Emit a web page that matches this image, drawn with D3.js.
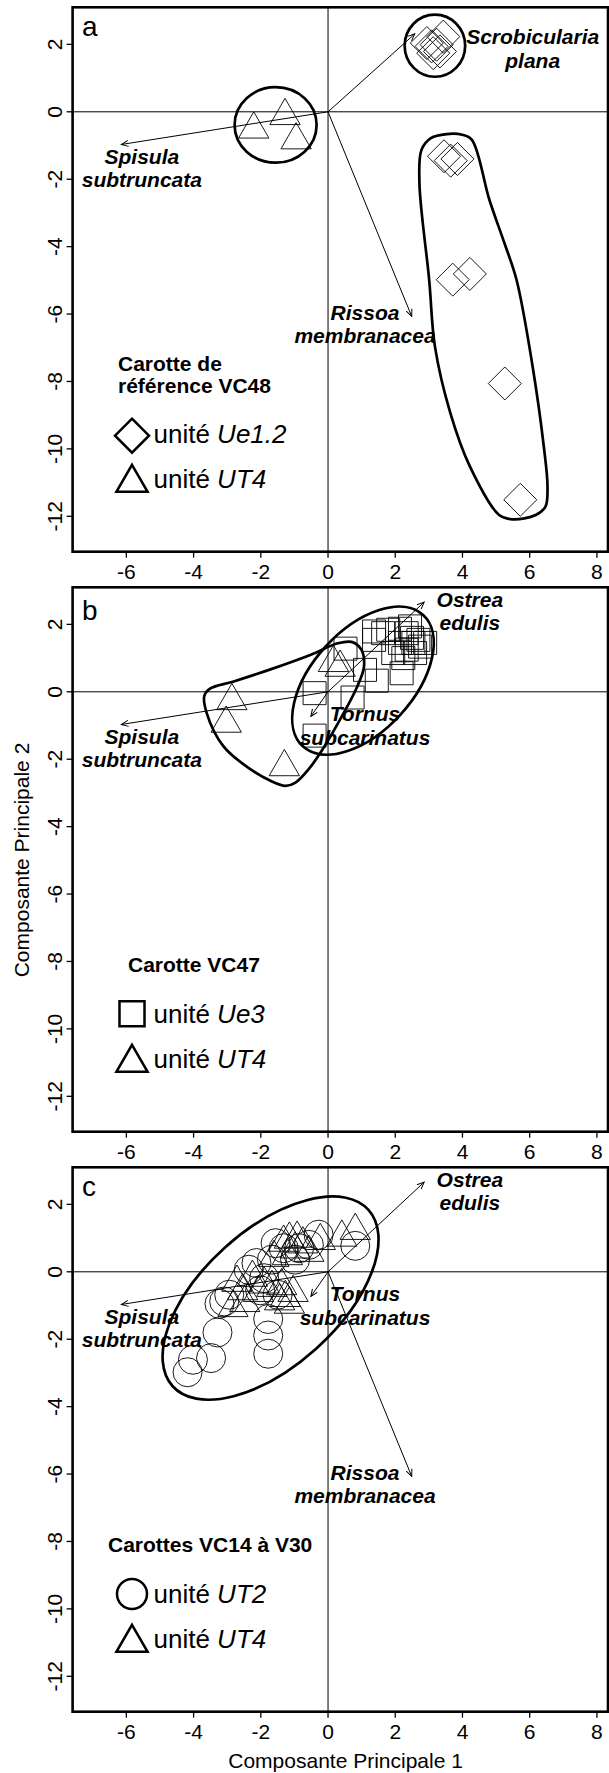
<!DOCTYPE html>
<html>
<head>
<meta charset="utf-8">
<script src="https://cdn.jsdelivr.net/npm/d3@7"></script>
<style>
  body { margin: 0; background: #fff; }
  svg { display: block; font-family: "Liberation Sans", Arial, sans-serif; }
</style>
</head>
<body>
<div id="chart"></div>
<script>
// ---- axes ----
const xTicks = [-6, -4, -2, 0, 2, 4, 6, 8];
const yTicks = [2, 0, -2, -4, -6, -8, -10, -12];
const xDomain = [-7.6, 8.33];
const yDomain = [-13.05, 3.1];

// ---- species loadings (arrow tips) ----
const spisula = [-6.15, -0.97];
const scrobicularia = [2.58, 2.31];
const rissoa = [2.49, -6.07];
const ostrea = [2.86, 2.66];
const tornus = [-0.51, -0.73];

// ---- species labels (first line baseline, data units) ----
const lblSpisula = { lines: ["Spisula", "subtruncata"], at: [-5.54, -1.54] };
const lblScrob = { lines: ["Scrobicularia", "plana"], at: [6.09, 2.01] };
const lblRissoa = { lines: ["Rissoa", "membranacea"], at: [1.10, -6.17] };
const lblOstrea = { lines: ["Ostrea", "edulis"], at: [4.22, 2.53] };
const lblTornus = { lines: ["Tornus", "subcarinatus"], at: [1.10, -0.88] };

// ---- panel a : VC48 ----
const ue12A = [[2.94, 2.04], [3.08, 1.94], [3.23, 1.99], [3.43, 2.23], [3.33, 1.79], [3.13, 1.74],
  [3.45, -1.32], [3.65, -1.45], [3.85, -1.40], [3.71, -4.98], [4.22, -4.81], [5.26, -8.06], [5.72, -11.51]];
const ut4A = [[-2.21, -0.52], [-1.28, -0.12], [-0.95, -0.84]];

// ---- panel b : VC47 ----
const ue3B = [[-0.40, -0.04], [-0.40, -1.30], [0.73, -0.17], [1.10, 0.65], [0.52, 1.28], [1.45, 0.33],
  [1.37, 1.79], [1.37, 1.54], [2.19, 0.55], [1.79, 1.84], [2.14, 1.87], [2.34, 1.74], [2.14, 1.45],
  [2.34, 1.25], [2.54, 1.45], [2.69, 1.54], [2.74, 1.34], [2.59, 1.15], [2.24, 1.00], [1.94, 1.15],
  [2.44, 1.94], [1.64, 1.74], [2.89, 1.45], [2.50, 1.60]];
const ut4B = [[-2.86, -0.27], [-3.03, -0.94], [-1.30, -2.23], [0.16, 0.86], [0.36, 0.72]];

// ---- panel c : VC14 - V30 ----
const ut2C = [[-4.18, -2.98], [-4.02, -2.61], [-3.48, -2.56], [-3.29, -1.80], [-3.09, -0.88], [-3.23, -0.95],
  [-2.94, -0.68], [-1.78, -2.43], [-1.78, -1.89], [-1.78, -1.40], [-1.50, -0.68], [-2.02, -0.55],
  [-2.36, 0.06], [-2.13, 0.26], [-1.67, 0.36], [-1.90, -0.19], [-1.56, 0.85], [-1.32, 0.70],
  [-0.86, 0.70], [-0.57, 0.80], [-0.28, 1.10], [0.81, 0.77], [-0.98, 0.36]];
const ut4C = [[0.81, 1.22], [0.41, 1.02], [-0.23, 0.92], [-0.92, 0.99], [-1.15, 0.96], [-1.32, 0.87],
  [-0.75, 0.82], [-0.57, 0.57], [-0.98, 0.67], [-1.21, 0.47], [-1.61, 0.42], [-2.71, -0.32],
  [-2.54, -0.57], [-2.83, -1.07], [-2.48, -0.92], [-1.90, -0.37], [-1.67, -0.47], [-1.38, -0.42],
  [-1.04, -0.62], [-1.27, -0.77], [-1.44, -0.87], [-1.15, -0.97], [-2.25, -0.17], [-2.07, -0.62]];

// ---- group enclosures (data units) ----
// ellipses: [cx, cy, a, b, angle in degrees]
const ellA1 = [-1.56, -0.39, 1.22, 1.12, 0];
const ellA2 = [3.18, 1.96, 0.9, 0.92, 0];
const ellB1 = [1.04, 0.33, 2.65, 1.5, 47.5];
const ellC1 = [-1.71, -0.78, 3.92, 2.02, 42];
// free outlines
const hullA = [[3.53, -0.66], [3.99, -0.68], [4.28, -0.83], [4.80, -2.61], [5.25, -3.9], [5.61, -4.99],
  [6.07, -7.45], [6.42, -9.93], [6.53, -11.12], [6.47, -11.71], [6.18, -11.96], [5.49, -12.09],
  [5.09, -11.96], [4.22, -10.52], [3.64, -8.94], [3.18, -6.96], [3.01, -4.99], [2.72, -2.12],
  [2.78, -1.13], [3.06, -0.78]];
const hullB = [[-3.68, -0.12], [-3.5, 0.1], [-2.83, 0.3], [-1.67, 0.68], [-0.51, 1.1], [0.29, 1.44],
  [0.7, 1.48], [0.99, 1.25], [1.07, 0.75], [0.87, 0.16], [0.41, -0.73], [-0.17, -1.72], [-0.54, -2.25],
  [-0.98, -2.7], [-1.27, -2.79], [-1.73, -2.63], [-2.42, -2.22], [-3.11, -1.62], [-3.61, -0.63]];

const panels = [
  { letter: "a", letterY: 28.7, top: 7.3,
    groups: [{ shape: "diamond", pts: ue12A }, { shape: "triangle", pts: ut4A }],
    ellipses: [ellA1, ellA2], hulls: [hullA],
    arrows: [spisula, scrobicularia, rissoa], labels: [lblSpisula, lblScrob, lblRissoa],
    legendTitle: ["Carotte de", "référence VC48"], titleX: 118, titleY: 363.4,
    legend: [["diamond", "Ue1.2"], ["triangle", "UT4"]] },
  { letter: "b", letterY: 32.5, top: 587.3,
    groups: [{ shape: "square", pts: ue3B }, { shape: "triangle", pts: ut4B }],
    ellipses: [ellB1], hulls: [hullB],
    arrows: [spisula, ostrea, tornus], labels: [lblSpisula, lblOstrea, lblTornus],
    legendTitle: ["Carotte VC47"], titleX: 128, titleY: 384.4,
    legend: [["square", "Ue3"], ["triangle", "UT4"]] },
  { letter: "c", letterY: 28.7, top: 1167.3,
    groups: [{ shape: "circle", pts: ut2C }, { shape: "triangle", pts: ut4C }],
    ellipses: [ellC1], hulls: [],
    arrows: [spisula, ostrea, tornus, rissoa], labels: [lblSpisula, lblOstrea, lblTornus, lblRissoa],
    legendTitle: ["Carottes VC14 à V30"], titleX: 108, titleY: 384.4,
    legend: [["circle", "UT2"], ["triangle", "UT4"]] }
];

const W = 609, H = 1773;
const plotLeft = 72.6, plotRight = 608, plotH = 544.4;

const svg = d3.select("#chart").append("svg")
  .attr("width", W).attr("height", H);

svg.append("defs").append("marker")
  .attr("id", "head")
  .attr("viewBox", "-8 -4 9 8")
  .attr("refX", 0).attr("refY", 0)
  .attr("markerWidth", 9).attr("markerHeight", 8)
  .attr("markerUnits", "userSpaceOnUse")
  .attr("orient", "auto")
  .append("path")
  .attr("d", "M-7,-3L0,0L-7,3")
  .attr("fill", "none").attr("stroke", "#000").attr("stroke-width", 1);

const x = d3.scaleLinear().domain(xDomain).range([plotLeft, plotRight]);

// marker shapes (pixel geometry around 0,0)
function shapePath(kind, big) {
  const k = big ? 1.03 : 1;
  if (kind === "triangle") {
    const r = 17.5 * k, hw = r * 0.866, b = r / 2;
    return `M0,${-r}L${hw},${b}L${-hw},${b}Z`;
  }
  if (kind === "diamond") { const h = 16.5 * k; return `M0,${-h}L${h},0L0,${h}L${-h},0Z`; }
  if (kind === "square") { const s = (big ? 12.5 : 11.5); return `M${-s},${-s}H${s}V${s}H${-s}Z`; }
  const r = big ? 15 : 14.5;
  return `M${-r},0A${r},${r} 0 1,0 ${r},0A${r},${r} 0 1,0 ${-r},0Z`;
}

panels.forEach(p => {
  const y = d3.scaleLinear().domain(yDomain).range([p.top + plotH, p.top]);
  const g = svg.append("g");
  const bottom = p.top + plotH;

  // zero lines
  g.append("line").attr("x1", x(0)).attr("x2", x(0)).attr("y1", p.top).attr("y2", bottom)
    .attr("stroke", "#000").attr("stroke-width", 1);
  g.append("line").attr("x1", plotLeft).attr("x2", plotRight).attr("y1", y(0)).attr("y2", y(0))
    .attr("stroke", "#000").attr("stroke-width", 1);

  // points
  p.groups.forEach(grp => {
    g.append("g").selectAll("path")
      .data(grp.pts)
      .join("path")
      .attr("transform", d => `translate(${x(d[0])},${y(d[1])})`)
      .attr("d", shapePath(grp.shape, false))
      .attr("fill", "none")
      .attr("stroke", "#000")
      .attr("stroke-width", 0.9);
  });

  // enclosures
  const kx = x(1) - x(0), ky = y(0) - y(1);
  g.selectAll("ellipse.enc")
    .data(p.ellipses)
    .join("ellipse")
    .attr("class", "enc")
    .attr("cx", d => x(d[0])).attr("cy", d => y(d[1]))
    .attr("rx", d => d[2] * kx).attr("ry", d => d[3] * ky)
    .attr("transform", d => `rotate(${-d[4]},${x(d[0])},${y(d[1])})`)
    .attr("fill", "none").attr("stroke", "#000").attr("stroke-width", 2.7);

  const hullLine = d3.line().x(d => x(d[0])).y(d => y(d[1])).curve(d3.curveCatmullRomClosed.alpha(0.5));
  g.selectAll("path.hull")
    .data(p.hulls)
    .join("path")
    .attr("class", "hull")
    .attr("d", hullLine)
    .attr("fill", "none").attr("stroke", "#000").attr("stroke-width", 2.7);

  // loading arrows
  g.selectAll("line.arrow")
    .data(p.arrows)
    .join("line")
    .attr("class", "arrow")
    .attr("x1", x(0)).attr("y1", y(0))
    .attr("x2", d => x(d[0])).attr("y2", d => y(d[1]))
    .attr("stroke", "#000").attr("stroke-width", 1)
    .attr("marker-end", "url(#head)");

  // species labels
  p.labels.forEach(l => {
    const t = g.append("text")
      .attr("text-anchor", "middle")
      .attr("font-size", 21).attr("font-weight", "bold").attr("font-style", "italic");
    l.lines.forEach((s, i) => {
      t.append("tspan").attr("x", x(l.at[0])).attr("y", y(l.at[1]) + i * 23.7).text(s);
    });
  });

  // frame
  g.append("rect")
    .attr("x", plotLeft).attr("y", p.top)
    .attr("width", plotRight - plotLeft).attr("height", plotH)
    .attr("fill", "none").attr("stroke", "#000").attr("stroke-width", 2.6);

  // axes ticks
  g.selectAll("line.xt").data(xTicks).join("line")
    .attr("x1", d => x(d)).attr("x2", d => x(d))
    .attr("y1", bottom).attr("y2", bottom + 6)
    .attr("stroke", "#000").attr("stroke-width", 1.3);
  g.selectAll("text.xt").data(xTicks).join("text")
    .attr("class", "xt")
    .attr("x", d => x(d)).attr("y", bottom + 27)
    .attr("text-anchor", "middle").attr("font-size", 21)
    .text(d => d);
  g.selectAll("line.yt").data(yTicks).join("line")
    .attr("x1", plotLeft - 6).attr("x2", plotLeft)
    .attr("y1", d => y(d)).attr("y2", d => y(d))
    .attr("stroke", "#000").attr("stroke-width", 1.3);
  g.selectAll("text.yt").data(yTicks).join("text")
    .attr("class", "yt")
    .attr("transform", d => `translate(62,${y(d)}) rotate(-90)`)
    .attr("text-anchor", "middle").attr("font-size", 21)
    .text(d => d);

  // panel letter
  g.append("text").attr("x", 82).attr("y", p.top + p.letterY)
    .attr("font-size", 28).text(p.letter);

  // legend
  const lg = g.append("g").attr("transform", `translate(0,${p.top})`);
  p.legendTitle.forEach((s, i) => {
    lg.append("text").attr("x", p.titleX).attr("y", p.titleY + i * 22.6)
      .attr("font-size", 21).attr("font-weight", "bold").text(s);
  });
  const itemY = [436, 481];
  const markY = { diamond: 428.4, square: 426.4, circle: 426.7, triangle: 475.5 };
  p.legend.forEach((it, i) => {
    const my = markY[it[0]];
    lg.append("path")
      .attr("transform", `translate(132,${my})`)
      .attr("d", shapePath(it[0], true))
      .attr("fill", "none").attr("stroke", "#000").attr("stroke-width", 2.5);
    const t = lg.append("text").attr("x", 153.5).attr("y", itemY[i]).attr("font-size", 26);
    t.append("tspan").text("unité ");
    t.append("tspan").attr("font-style", "italic").text(it[1]);
  });
});

// axis titles
svg.append("text")
  .attr("x", 345.6).attr("y", 1768)
  .attr("text-anchor", "middle").attr("font-size", 21)
  .text("Composante Principale 1");
svg.append("text")
  .attr("transform", "translate(28.6,860) rotate(-90)")
  .attr("text-anchor", "middle").attr("font-size", 21)
  .text("Composante Principale 2");
</script>
</body>
</html>
